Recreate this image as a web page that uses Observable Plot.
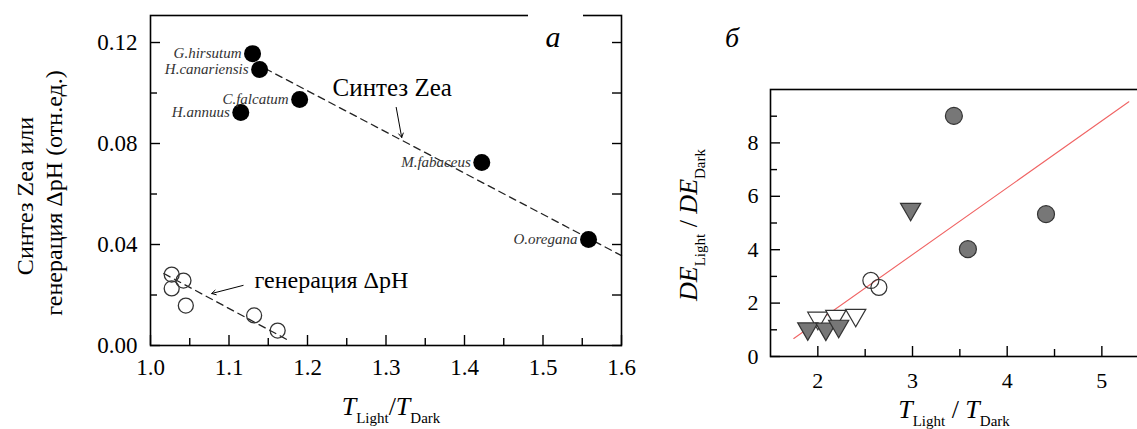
<!DOCTYPE html>
<html><head><meta charset="utf-8">
<script src="https://cdn.jsdelivr.net/npm/d3@7"></script>
<script src="https://cdn.jsdelivr.net/npm/@observablehq/plot@0.6"></script>
<style>
html,body{margin:0;padding:0;background:#fff;overflow:hidden}
#wrap{position:relative;width:1137px;height:429px;overflow:hidden}
#pa{position:absolute;left:0;top:0}
#pb{position:absolute;left:660px;top:0}
#wrap svg{overflow:hidden}
#wrap svg, #wrap svg text, #wrap svg tspan{font-family:'Liberation Serif','Times New Roman',serif !important}
</style></head><body><div id="wrap"><div id="pa"></div><div id="pb"></div></div>
<script>
// ---------- Panel a data ----------
const speciesNames = ["G.hirsutum","H.canariensis","C.falcatum","H.annuus","M.fabaceus","O.oregana"];
const speciesRatio = [1.130, 1.139, 1.190, 1.115, 1.422, 1.558];
const zeaSynthesis = [0.1156, 0.1093, 0.0974, 0.0923, 0.0725, 0.0420];
const phRatio = [1.027, 1.042, 1.027, 1.045, 1.132, 1.162];
const phGeneration = [0.0281, 0.0257, 0.0226, 0.0158, 0.0119, 0.0059];
const zeaTrendX = [1.146, 1.600];
const zeaTrendY = [0.1097, 0.0356];
const phTrendX = [1.017, 1.176];
const phTrendY = [0.0285, 0.0020];
const aXTicks = [1.0, 1.1, 1.2, 1.3, 1.4, 1.5, 1.6];
const aXMinor = [1.05, 1.15, 1.25, 1.35, 1.45, 1.55];
const aYTicks = [0.00, 0.04, 0.08, 0.12];
const aYMinor = [0.02, 0.06, 0.10];
const aNotes = ["Синтез Zea", "генерация ΔpH"];
const aNoteX = [1.308, 1.1325];
const aNoteY = [0.102, 0.026];
const aArrowX1 = [1.313, 1.118], aArrowY1 = [0.0943, 0.0238];
const aArrowX2 = [1.320, 1.078], aArrowY2 = [0.0824, 0.0206];

// ---------- Panel б data ----------
const grayCircleX = [3.437, 4.41, 3.585];
const grayCircleY = [9.01, 5.33, 4.02];
const grayTriX = [2.98, 1.894, 2.085, 2.22];
const grayTriY = [5.52, 1.04, 1.03, 1.14];
const openCircleX = [2.56, 2.645];
const openCircleY = [2.85, 2.59];
const openTriX = [2.00, 2.19, 2.40];
const openTriY = [1.44, 1.51, 1.55];
const fitX = [1.746, 5.285];
const fitY = [0.676, 9.54];
const bXTicks = [2, 3, 4, 5];
const bXMinor = [2.5, 3.5, 4.5];
const bYTicks = [0, 2, 4, 6, 8];
const bYMinor = [1, 3, 5, 7, 9];

const FONT = "'Liberation Serif', 'Times New Roman', serif";
const zip = (xs, ys) => xs.map((x, i) => ({x, y: ys[i]}));
const tickOpts = {text: null, label: null, strokeWidth: 1.4};

// ---------- Panel a ----------
const species = speciesNames.map((n, i) => ({name: n, x: speciesRatio[i], y: zeaSynthesis[i]}));
const ph = zip(phRatio, phGeneration);
const notes = aNotes.map((t, i) => ({t, x: aNoteX[i], y: aNoteY[i]}));
const arrows = aArrowX1.map((x1, i) => ({x1, y1: aArrowY1[i], x2: aArrowX2[i], y2: aArrowY2[i]}));

const plotA = Plot.plot({
  width: 660, height: 429,
  marginLeft: 150, marginRight: 39, marginTop: 15, marginBottom: 84,
  style: {fontFamily: FONT, background: "transparent", color: "#000"},
  x: {domain: [1.0, 1.6]},
  y: {domain: [0, 0.1307]},
  marks: [
    Plot.line(zip(zeaTrendX, zeaTrendY), {x: "x", y: "y", stroke: "#222", strokeWidth: 1.3, strokeDasharray: "7,5"}),
    Plot.line(zip(phTrendX, phTrendY), {x: "x", y: "y", stroke: "#222", strokeWidth: 1.3, strokeDasharray: "7,5"}),
    Plot.dot(ph, {x: "x", y: "y", r: 7.5, stroke: "#333", strokeWidth: 1.3, fill: "none"}),
    Plot.dot(species, {x: "x", y: "y", r: 8.5, fill: "#000", stroke: "none"}),
    Plot.text(species, {x: "x", y: "y", text: "name", textAnchor: "end", dx: -11, fontSize: 15, fontStyle: "italic", fill: "#333", fontFamily: FONT}),
    Plot.text(notes.slice(0, 1), {x: "x", y: "y", text: "t", textAnchor: "middle", fontSize: 25, fill: "#000", fontFamily: FONT}),
    Plot.text(notes.slice(1), {x: "x", y: "y", text: "t", textAnchor: "start", fontSize: 24, fill: "#000", fontFamily: FONT}),
    Plot.arrow(arrows, {x1: "x1", y1: "y1", x2: "x2", y2: "y2", stroke: "#000", strokeWidth: 1, headLength: 7}),
    Plot.frame({stroke: "#000", strokeWidth: 1.6}),
    Plot.axisX({...tickOpts, ticks: aXTicks, tickSize: -10, anchor: "bottom"}),
    Plot.axisX({...tickOpts, ticks: aXMinor, tickSize: -7, anchor: "bottom"}),
    Plot.axisX({ticks: aXTicks, tickSize: 0, tickPadding: 13, tickFormat: d3.format(".1f"), fontSize: 23, anchor: "bottom", label: null, fontFamily: FONT}),
    Plot.axisY({...tickOpts, ticks: aYTicks, tickSize: -10, anchor: "left"}),
    Plot.axisY({...tickOpts, ticks: aYMinor, tickSize: -7, anchor: "left"}),
    Plot.axisY({...tickOpts, ticks: aYTicks, tickSize: -10, anchor: "right"}),
    Plot.axisY({...tickOpts, ticks: aYMinor, tickSize: -10, anchor: "right"}),
    Plot.axisY({ticks: aYTicks, tickSize: 0, tickPadding: 13, tickFormat: d3.format(".2f"), fontSize: 23, anchor: "left", label: null, fontFamily: FONT})
  ]
});
document.getElementById("pa").appendChild(plotA);

// ---------- Panel б ----------
const plotB = Plot.plot({
  width: 477, height: 429,
  marginLeft: 110, marginRight: -11.7, marginTop: 89, marginBottom: 73,
  style: {fontFamily: FONT, background: "transparent", color: "#000"},
  x: {domain: [1.5, 5.5]},
  y: {domain: [0, 10]},
  marks: [
    Plot.line(zip(fitX, fitY), {x: "x", y: "y", stroke: "#f06464", strokeWidth: 1.1}),
    Plot.dot(zip(grayCircleX, grayCircleY), {x: "x", y: "y", r: 8.5, fill: "#777", stroke: "#333", strokeWidth: 1.2}),
    Plot.dot(zip(openCircleX, openCircleY), {x: "x", y: "y", r: 8, fill: "none", stroke: "#333", strokeWidth: 1.2}),
    Plot.dot(zip(openTriX, openTriY), {x: "x", y: "y", r: 7.5, symbol: "triangle", rotate: 180, fill: "#fff", stroke: "#333", strokeWidth: 1.2}),
    Plot.dot(zip(grayTriX, grayTriY), {x: "x", y: "y", r: 7.5, symbol: "triangle", rotate: 180, fill: "#777", stroke: "#333", strokeWidth: 1.2}),
    Plot.frame({stroke: "#000", strokeWidth: 1.6}),
    Plot.axisX({...tickOpts, ticks: bXTicks, tickSize: -10, anchor: "bottom"}),
    Plot.axisX({...tickOpts, ticks: bXMinor, tickSize: -7, anchor: "bottom"}),
    Plot.axisX({ticks: bXTicks, tickSize: 0, tickPadding: 16, tickFormat: d3.format("d"), fontSize: 22, anchor: "bottom", label: null, fontFamily: FONT}),
    Plot.axisY({...tickOpts, ticks: bYTicks, tickSize: -10, anchor: "left"}),
    Plot.axisY({...tickOpts, ticks: bYMinor, tickSize: -7, anchor: "left"}),
    Plot.axisY({ticks: bYTicks, tickSize: 0, tickPadding: 12, tickFormat: d3.format("d"), fontSize: 22, anchor: "left", label: null, fontFamily: FONT})
  ]
});
document.getElementById("pb").appendChild(plotB);

// ---------- titles with sub-scripts ----------
function richText(svg, x, y, rotate, parts, anchor = "middle") {
  const t = d3.select(svg).append("text")
    .attr("transform", `translate(${x},${y})` + (rotate ? ` rotate(${rotate})` : ""))
    .attr("text-anchor", anchor)
    .attr("font-family", FONT)
    .attr("fill", "#000");
  for (const p of parts) {
    const s = t.append("tspan").text(p.t).attr("font-size", p.size);
    if (p.italic) s.attr("font-style", "italic");
    if (p.dy) s.attr("dy", p.dy);
  }
  return t;
}
// panel a axis titles
richText(plotA, 391, 415, 0, [
  {t: "T", size: 26, italic: true},
  {t: "Light", size: 15, dy: 8},
  {t: "/", size: 26, dy: -8},
  {t: "T", size: 26, italic: true},
  {t: "Dark", size: 15, dy: 8}
]);
richText(plotA, 33, 196, -90, [{t: "Синтез Zea или", size: 24}]);
richText(plotA, 62, 193, -90, [{t: "генерация ΔpH (отн.ед.)", size: 24}]);
// panel letter a with gap in frame
d3.select(plotA).append("rect").attr("x", 528).attr("y", 10).attr("width", 55).attr("height", 12).attr("fill", "#fff");
richText(plotA, 553, 47, 0, [{t: "a", size: 30, italic: true}]);

// panel б axis titles
richText(plotB, 294, 418, 0, [
  {t: "T", size: 26, italic: true},
  {t: "Light", size: 15, dy: 8},
  {t: " / ", size: 26, dy: -8},
  {t: "T", size: 26, italic: true},
  {t: "Dark", size: 15, dy: 8}
]);
richText(plotB, 37, 225, -90, [
  {t: "DE", size: 26, italic: true},
  {t: "Light", size: 15, dy: 8},
  {t: " / ", size: 26, dy: -8},
  {t: "DE", size: 26, italic: true},
  {t: "Dark", size: 15, dy: 8}
]);
richText(plotB, 72, 47, 0, [{t: "б", size: 28, italic: true}]);
</script>
</body></html>
